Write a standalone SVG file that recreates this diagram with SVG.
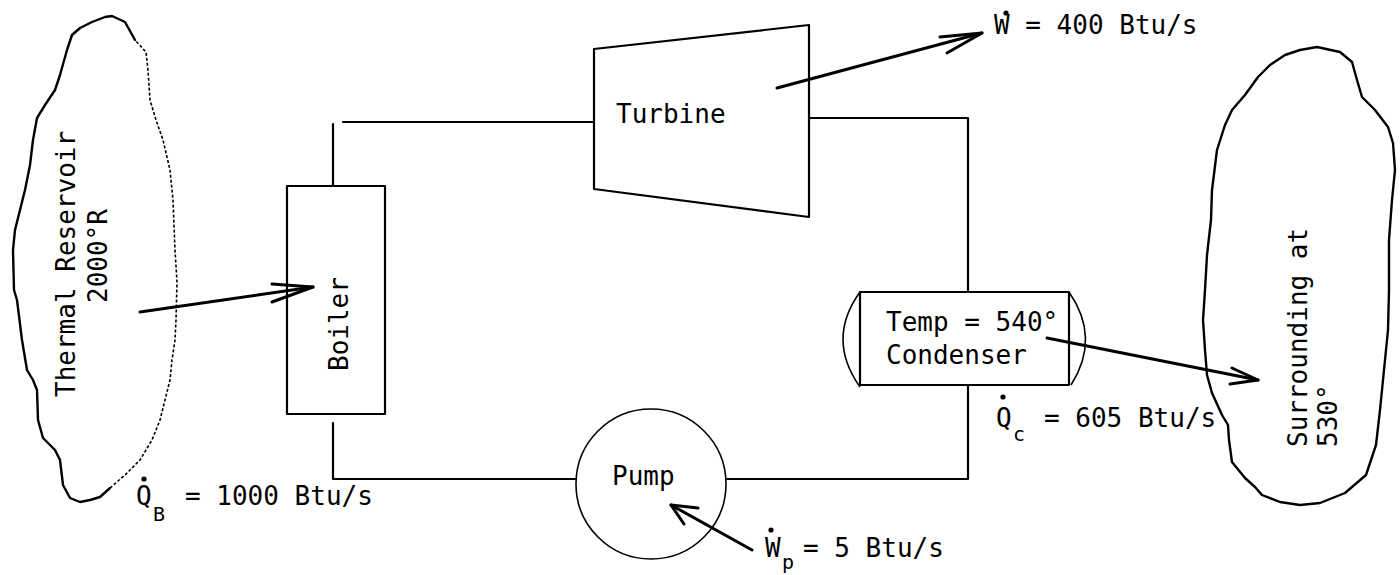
<svg xmlns="http://www.w3.org/2000/svg" width="1400" height="575" viewBox="0 0 1400 575">
<style>
.bg{fill:#ffffff}
.ln{fill:none;stroke:#000;stroke-width:2.2;stroke-linecap:round;stroke-linejoin:round}
.thin{fill:none;stroke:#000;stroke-width:1.6}
.cloud{fill:none;stroke:#000;stroke-width:2.4;stroke-linejoin:round;stroke-linecap:round}
.cloudd{fill:none;stroke:#000;stroke-width:1.6;stroke-dasharray:3 2;stroke-linejoin:round}
.arr{fill:none;stroke:#000;stroke-width:3;stroke-linecap:round;stroke-linejoin:round}
.t{font-family:"DejaVu Sans Mono","Liberation Mono",monospace;font-size:26px;fill:#000}
.s{font-family:"DejaVu Sans Mono","Liberation Mono",monospace;font-size:20px;fill:#000}
.dot{fill:#000}
</style>
<rect class="bg" x="0" y="0" width="1400" height="575"/>

<g id="thermal-reservoir">
<path class="cloud" d="M135,40 L125,22 L112,16 L105,17 L92,22 L80,28 L72,35 L67,50 L60,75 L55,90 L45,105 L37,118 L33,140 L30,165 L25,190 L20,210 L15,230 L13,250 L14,290 L17,300 L22,340 L27,370 L33,380 L37,390 L38,420 L43,438 L55,450 L60,460 L63,485 L70,498 L80,502 L90,500 L100,497 L110,488"/>
<path class="cloudd" d="M110,488 L125,475 L140,460 L152,440 L160,420 L165,400 L170,380 L172,360 L175,340 L176,320 L177,282 L175,250 L173,200 L170,170 L163,140 L156,120 L150,100 L148,70 L146,52 L135,40"/>
<text class="t" transform="translate(75,397) rotate(-90)">Thermal Reservoir</text>
<text class="t" transform="translate(107,303) rotate(-90)">2000°R</text>
</g>

<g id="surrounding">
<path class="cloud" d="M1317,47 L1340,52 L1352,62 L1357,80 L1362,97 L1375,110 L1388,127 L1393,143 L1395,170 L1392,200 L1389,240 L1389,290 L1388,330 L1384,370 L1380,410 L1376,445 L1366,475 L1345,493 L1320,503 L1300,505 L1280,502 L1262,495 L1255,487 L1245,478 L1232,462 L1229,440 L1228,425 L1222,415 L1212,393 L1207,375 L1205,350 L1203,320 L1205,290 L1207,255 L1211,220 L1212,190 L1217,150 L1225,125 L1232,110 L1245,95 L1258,77 L1270,65 L1285,55 L1300,50 Z"/>
<text class="t" transform="translate(1307,447) rotate(-90)">Surrounding at</text>
<text class="t" transform="translate(1337,447) rotate(-90)">530°</text>
</g>

<g id="boiler">
<rect class="ln" x="287" y="186" width="98" height="228"/>
<text class="t" transform="translate(348,371) rotate(-90)">Boiler</text>
</g>

<g id="turbine">
<polygon class="ln" points="594,49 809,25 809,217 594,189"/>
<text class="t" x="616" y="123">Turbine</text>
</g>

<g id="condenser">
<rect class="ln" x="860" y="292" width="209" height="93"/>
<path class="thin" d="M860,292 Q826,339 860,387"/>
<path class="thin" d="M1069,292 Q1101,338 1071,385"/>
<text class="t" x="886" y="331">Temp = 540°</text>
<text class="t" x="886" y="364">Condenser</text>
</g>

<g id="pump">
<circle class="thin" cx="651" cy="484" r="75"/>
<text class="t" x="612" y="485">Pump</text>
</g>

<g id="connectors">
<path class="ln" d="M333,124 L333,186"/>
<path class="ln" d="M343,122 L594,122"/>
<path class="ln" d="M333,423 L333,479 L576,479"/>
<path class="ln" d="M727,479 L968,479 L968,385"/>
<path class="ln" d="M968,292 L968,118 L809,118"/>
<path class="arr" d="M140,312 L313,287"/>
<path class="arr" d="M272,284 L313,287 L272,302"/>
<path class="arr" d="M777,88 L982,33"/>
<path class="arr" d="M940,37 L982,33 L947,53"/>
<path class="arr" d="M1047,338 L1258,380"/>
<path class="arr" d="M1232,368 L1258,380 L1230,384"/>
<path class="arr" d="M752,550 L671,505"/>
<path class="arr" d="M698,508 L671,505 L684,524"/>
</g>

<g id="labels">
<text class="t" x="994" y="34">W = 400 Btu/s</text>
<circle class="dot" cx="1006" cy="13" r="2.6"/>
<text class="t" x="996" y="427">Q</text>
<text class="s" x="1013" y="441">c</text>
<text class="t" x="1044" y="427">= 605 Btu/s</text>
<circle class="dot" cx="1003" cy="397" r="2.6"/>
<text class="t" x="136" y="505">Q</text>
<text class="s" x="153" y="521">B</text>
<text class="t" x="185" y="505">= 1000 Btu/s</text>
<circle class="dot" cx="144" cy="479" r="2.6"/>
<text class="t" x="765" y="557">W</text>
<text class="s" x="782" y="569">p</text>
<text class="t" x="803" y="557">= 5 Btu/s</text>
<circle class="dot" cx="771" cy="530" r="2.6"/>
</g>
</svg>
